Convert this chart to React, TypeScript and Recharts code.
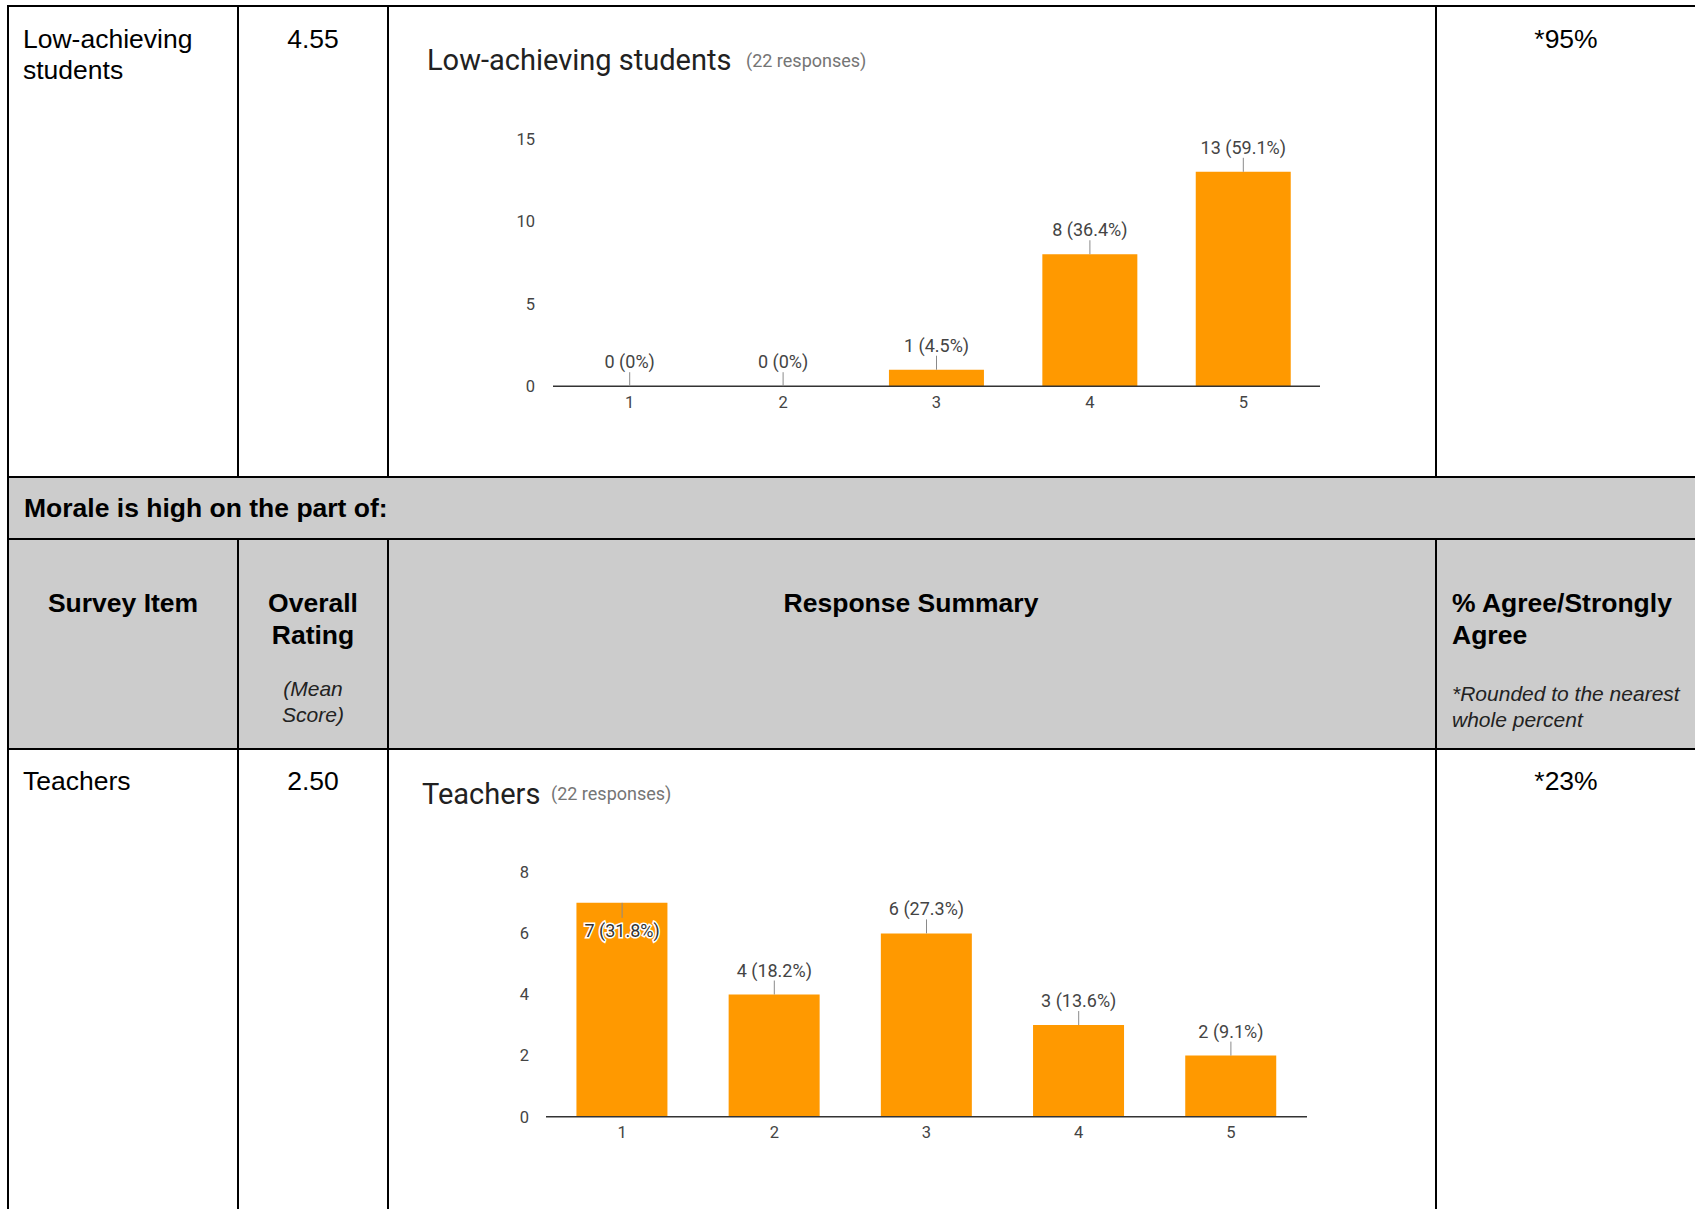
import React from 'react';
import { ComposedChart, Bar, Line, XAxis, YAxis } from 'recharts';

// ---------- data ----------
const categories = ['1', '2', '3', '4', '5'];

const lowAchievingCounts = [0, 0, 1, 8, 13];
const lowAchievingPercents = ['0%', '0%', '4.5%', '36.4%', '59.1%'];
const lowAchievingTicks = [0, 5, 10, 15];

const teacherCounts = [7, 4, 6, 3, 2];
const teacherPercents = ['31.8%', '18.2%', '27.3%', '13.6%', '9.1%'];
const teacherTicks = [0, 2, 4, 6, 8];

const lowAchievingTitle = 'Low-achieving students';
const teacherTitle = 'Teachers';
const responsesText = '(22 responses)';

type Row = { cat: string; count: number; pct: string };

const lowData: Row[] = categories.map((c, i) => ({ cat: c, count: lowAchievingCounts[i], pct: lowAchievingPercents[i] }));
const teacherData: Row[] = categories.map((c, i) => ({ cat: c, count: teacherCounts[i], pct: teacherPercents[i] }));

const ORANGE = '#ff9900';
const CHART_FONT = 'Roboto, "Liberation Sans", Arial, sans-serif';
const TABLE_FONT = '"Liberation Sans", Arial, sans-serif';

// ---------- annotation (drawn as the dot of an invisible line series) ----------
const makeAnnotation = (max: number) => (props: any) => {
  const { cx, cy, payload, index } = props;
  if (!payload || cx == null || cy == null) return <g key={`a-${index}`} />;
  const top = Number(cy);
  const text = `${payload.count} (${payload.pct})`;
  const inside = (max - payload.count) / max < 0.13;
  if (inside) {
    return (
      <g key={`a-${index}`}>
        <line x1={cx} x2={cx} y1={top} y2={top + 15} stroke="#8a8a8a" strokeWidth={1} />
        <text
          x={cx}
          y={top + 28}
          textAnchor="middle"
          dominantBaseline="central"
          fill="#333"
          stroke="#fff"
          strokeWidth={3}
          paintOrder="stroke"
          fontSize={18}
          fontFamily={CHART_FONT}
        >
          {text}
        </text>
      </g>
    );
  }
  return (
    <g key={`a-${index}`}>
      <line x1={cx} x2={cx} y1={top} y2={top - 14} stroke="#8a8a8a" strokeWidth={1} />
      <text
        x={cx}
        y={top - 24.5}
        textAnchor="middle"
        dominantBaseline="central"
        fill="#444"
        fontSize={18}
        fontFamily={CHART_FONT}
      >
        {text}
      </text>
    </g>
  );
};

type TxtProps = {
  x: number;
  cy: number;
  children: React.ReactNode;
  anchor?: 'left' | 'center';
  bold?: boolean;
  italic?: boolean;
  size?: number;
  color?: string;
  font?: string;
};

const Txt = ({ x, cy, children, anchor = 'left', bold, italic, size = 26.5, color = '#000', font = TABLE_FONT }: TxtProps) => {
  const lh = 30;
  const style: React.CSSProperties = {
    position: 'absolute',
    top: cy - lh / 2,
    left: x,
    lineHeight: `${lh}px`,
    height: lh,
    fontSize: size,
    fontFamily: font,
    fontWeight: bold ? 700 : 400,
    fontStyle: italic ? 'italic' : 'normal',
    whiteSpace: 'nowrap',
    color,
  };
  if (anchor === 'center') style.transform = 'translateX(-50%)';
  return <div style={style}>{children}</div>;
};

const HLine = ({ y, x1, x2 }: { y: number; x1: number; x2: number }) => (
  <div style={{ position: 'absolute', left: x1, top: y, width: x2 - x1, height: 2, background: '#000' }} />
);
const VLine = ({ x, y1, y2 }: { x: number; y1: number; y2: number }) => (
  <div style={{ position: 'absolute', left: x, top: y1, width: 2, height: y2 - y1, background: '#000' }} />
);

const axisTick = { fill: '#444', fontSize: 16.5, fontFamily: CHART_FONT };

export default function App() {
  return (
    <div
      style={{
        position: 'absolute',
        left: 0,
        top: 0,
        width: 1695,
        height: 1209,
        overflow: 'hidden',
        background: '#fff',
      }}
    >
      {/* gray header band */}
      <div style={{ position: 'absolute', left: 7, top: 477, width: 1688, height: 272, background: '#cccccc' }} />

      {/* borders */}
      <HLine y={5} x1={7} x2={1695} />
      <HLine y={476} x1={7} x2={1695} />
      <HLine y={538} x1={7} x2={1695} />
      <HLine y={748} x1={7} x2={1695} />
      <VLine x={7} y1={5} y2={1209} />
      <VLine x={237} y1={5} y2={477} />
      <VLine x={387} y1={5} y2={477} />
      <VLine x={1435} y1={5} y2={477} />
      <VLine x={237} y1={538} y2={1209} />
      <VLine x={387} y1={538} y2={1209} />
      <VLine x={1435} y1={538} y2={1209} />

      {/* row 1 text */}
      <Txt x={23} cy={39}>Low-achieving</Txt>
      <Txt x={23} cy={70}>students</Txt>
      <Txt x={313} cy={39} anchor="center">4.55</Txt>
      <Txt x={1566} cy={39} anchor="center">*95%</Txt>

      {/* section header */}
      <Txt x={24} cy={508} bold>Morale is high on the part of:</Txt>

      {/* column headers */}
      <Txt x={123} cy={603} anchor="center" bold>Survey Item</Txt>
      <Txt x={313} cy={603} anchor="center" bold>Overall</Txt>
      <Txt x={313} cy={634.5} anchor="center" bold>Rating</Txt>
      <Txt x={313} cy={689} anchor="center" italic size={21} color="#222">(Mean</Txt>
      <Txt x={313} cy={714.5} anchor="center" italic size={21} color="#222">Score)</Txt>
      <Txt x={911} cy={603} anchor="center" bold>Response Summary</Txt>
      <Txt x={1452} cy={603} bold>% Agree/Strongly</Txt>
      <Txt x={1452} cy={634.5} bold>Agree</Txt>
      <Txt x={1452} cy={694} italic size={21} color="#222">*Rounded to the nearest</Txt>
      <Txt x={1452} cy={720} italic size={21} color="#222">whole percent</Txt>

      {/* row 2 text */}
      <Txt x={23} cy={781}>Teachers</Txt>
      <Txt x={313} cy={781} anchor="center">2.50</Txt>
      <Txt x={1566} cy={781} anchor="center">*23%</Txt>

      {/* chart 1 titles */}
      <Txt x={427} cy={59.5} size={29} color="#212121" font={CHART_FONT}>{lowAchievingTitle}</Txt>
      <Txt x={746} cy={60.5} size={18} color="#757575" font={CHART_FONT}>{responsesText}</Txt>

      {/* chart 1 */}
      <div style={{ position: 'absolute', left: 440, top: 100 }}>
        <ComposedChart
          width={900}
          height={330}
          data={lowData}
          margin={{ top: 38.8, right: 20, bottom: 13.8, left: 0 }}
          barCategoryGap="19%"
        >
          <XAxis
            dataKey="cat"
            tickLine={false}
            tickSize={0}
            tickMargin={10}
            height={30}
            axisLine={{ stroke: '#333', strokeWidth: 1.5 }}
            tick={axisTick}
          />
          <YAxis
            domain={[0, 15]}
            ticks={lowAchievingTicks}
            interval={0}
            width={113}
            axisLine={false}
            tickLine={false}
            tickSize={0}
            tickMargin={18}
            tick={axisTick}
          />
          <Bar dataKey="count" fill={ORANGE} isAnimationActive={false} />
          <Line
            dataKey="count"
            stroke="none"
            dot={makeAnnotation(15)}
            activeDot={false}
            isAnimationActive={false}
            legendType="none"
          />
        </ComposedChart>
      </div>

      {/* chart 2 titles */}
      <Txt x={422} cy={793.5} size={29} color="#212121" font={CHART_FONT}>{teacherTitle}</Txt>
      <Txt x={551} cy={794} size={18} color="#757575" font={CHART_FONT}>{responsesText}</Txt>

      {/* chart 2 */}
      <div style={{ position: 'absolute', left: 440, top: 830 }}>
        <ComposedChart
          width={900}
          height={330}
          data={teacherData}
          margin={{ top: 42.3, right: 33, bottom: 13.3, left: 0 }}
          barCategoryGap="20%"
        >
          <XAxis
            dataKey="cat"
            tickLine={false}
            tickSize={0}
            tickMargin={9.5}
            height={30}
            axisLine={{ stroke: '#333', strokeWidth: 1.5 }}
            tick={axisTick}
          />
          <YAxis
            domain={[0, 8]}
            ticks={teacherTicks}
            interval={0}
            width={106}
            axisLine={false}
            tickLine={false}
            tickSize={0}
            tickMargin={17}
            tick={axisTick}
          />
          <Bar dataKey="count" fill={ORANGE} isAnimationActive={false} />
          <Line
            dataKey="count"
            stroke="none"
            dot={makeAnnotation(8)}
            activeDot={false}
            isAnimationActive={false}
            legendType="none"
          />
        </ComposedChart>
      </div>
    </div>
  );
}
